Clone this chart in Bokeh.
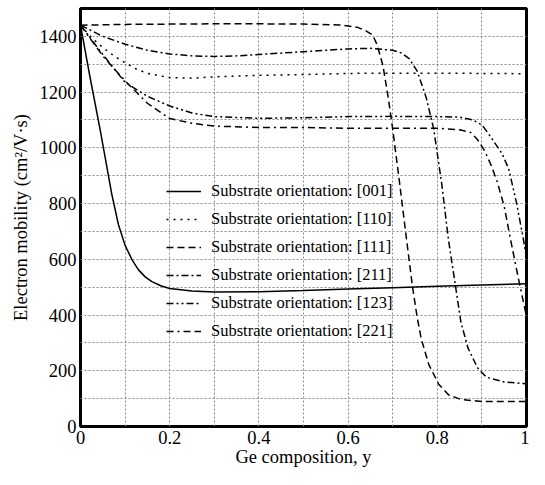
from bokeh.plotting import figure
from bokeh.models import Range1d, FixedTicker, CustomJSTickFormatter, Legend, LegendItem
from bokeh.embed import file_html
from bokeh.resources import INLINE

# ---- data ----
labels = ["Substrate orientation: [001]", "Substrate orientation: [110]",
          "Substrate orientation: [111]", "Substrate orientation: [211]",
          "Substrate orientation: [123]", "Substrate orientation: [221]"]

x001 = [0, 0.02, 0.044, 0.07, 0.085, 0.1, 0.115, 0.13, 0.145, 0.16, 0.18, 0.2, 0.25, 0.3, 0.4, 0.5, 0.6, 0.7, 0.8, 0.9, 1.0]
y001 = [1440, 1265, 1065, 835, 725, 650, 600, 562, 537, 520, 505, 495, 486, 483, 484, 488, 493, 498, 503, 508, 512]

x110 = [0, 0.025, 0.05, 0.075, 0.1, 0.125, 0.15, 0.2, 0.25, 0.3, 0.4, 0.5, 0.6, 0.7, 0.8, 0.9, 1.0]
y110 = [1440, 1395, 1360, 1330, 1305, 1283, 1267, 1252, 1250, 1255, 1260, 1263, 1267, 1268, 1268, 1267, 1266]

x111 = [0, 0.1, 0.2, 0.3, 0.4, 0.5, 0.58, 0.62, 0.64, 0.655, 0.665, 0.678, 0.69, 0.7, 0.715, 0.731, 0.744, 0.755, 0.764, 0.781, 0.803, 0.825, 0.853, 0.9, 1.0]
y111 = [1440, 1443, 1444, 1445, 1445, 1444, 1441, 1433, 1420, 1405, 1370, 1296, 1180, 1067, 880, 672, 506, 390, 315, 222, 152, 114, 97, 90, 90]

x211 = [0, 0.05, 0.1, 0.15, 0.2, 0.25, 0.3, 0.35, 0.4, 0.5, 0.6, 0.65, 0.7, 0.72, 0.737, 0.755, 0.775, 0.792, 0.81, 0.825, 0.84, 0.853, 0.869, 0.89, 0.91, 0.95, 1.0]
y211 = [1440, 1400, 1372, 1350, 1337, 1330, 1328, 1330, 1335, 1345, 1355, 1357, 1350, 1340, 1320, 1275, 1181, 1067, 870, 670, 512, 374, 281, 211, 177, 160, 153]

x123 = [0, 0.05, 0.1, 0.15, 0.2, 0.25, 0.3, 0.4, 0.5, 0.6, 0.7, 0.8, 0.85, 0.88, 0.9, 0.915, 0.93, 0.945, 0.96, 0.978, 0.993, 1.0]
y123 = [1440, 1335, 1235, 1185, 1150, 1125, 1112, 1106, 1108, 1112, 1113, 1112, 1110, 1100, 1082, 1050, 1015, 980, 925, 800, 672, 603]

x221 = [0, 0.05, 0.1, 0.15, 0.2, 0.25, 0.3, 0.4, 0.5, 0.6, 0.7, 0.8, 0.85, 0.875, 0.89, 0.906, 0.92, 0.934, 0.95, 0.965, 0.982, 1.0]
y221 = [1440, 1330, 1240, 1160, 1105, 1088, 1078, 1073, 1073, 1070, 1070, 1070, 1065, 1055, 1030, 990, 940, 880, 790, 665, 530, 395]

x_ticks = [0, 0.2, 0.4, 0.6, 0.8, 1]
y_ticks = [0, 200, 400, 600, 800, 1000, 1200, 1400]
x_grid = [0, 0.1, 0.2, 0.3, 0.4, 0.5, 0.6, 0.7, 0.8, 0.9, 1.0]
y_grid = [0, 100, 200, 300, 400, 500, 600, 700, 800, 900, 1000, 1100, 1200, 1300, 1400, 1500]

FONT = "Liberation Serif"

p = figure(width=529, height=469, output_backend="svg", toolbar_location=None, title=None,
           x_range=Range1d(0, 1), y_range=Range1d(0, 1500),
           min_border_left=80, min_border_right=3, min_border_top=8, min_border_bottom=0)
p.background_fill_color = "white"
p.border_fill_color = "white"
p.outline_line_color = "black"
p.outline_line_width = 3

p.xaxis.ticker = FixedTicker(ticks=x_ticks)
p.yaxis.ticker = FixedTicker(ticks=y_ticks)
p.xaxis.formatter = CustomJSTickFormatter(code="return String(tick)")
p.yaxis.formatter = CustomJSTickFormatter(code="return String(tick)")
p.xgrid.ticker = FixedTicker(ticks=x_grid)
p.ygrid.ticker = FixedTicker(ticks=y_grid)
for g in (p.xgrid, p.ygrid):
    g.grid_line_color = "#8a8a8a"
    g.grid_line_dash = "2 2"
    g.grid_line_width = 1

for ax in (p.xaxis, p.yaxis):
    ax.axis_line_color = None
    ax.major_tick_line_color = None
    ax.minor_tick_line_color = None
    ax.major_tick_out = 0
    ax.major_tick_in = 0
    ax.major_label_text_font = FONT
    ax.major_label_text_font_size = "18.5px"
    ax.major_label_text_color = "black"
    ax.axis_label_text_font = FONT
    ax.axis_label_text_font_size = "18.5px"
    ax.axis_label_text_font_style = "normal"
    ax.axis_label_text_color = "black"
p.xaxis.major_label_standoff = 4
p.yaxis.major_label_standoff = 4
p.xaxis.axis_label_standoff = 0
p.yaxis.axis_label_standoff = 6
p.xaxis.axis_label = "Ge composition, y"
p.yaxis.axis_label = "Electron mobility (cm\u00b2/V\u00b7s)"

series = [(x001, y001, "solid"), (x110, y110, "2 5"), (x111, y111, "7 4"),
          (x211, y211, "7 3 2 3"), (x123, y123, "7 3 2 3 2 3"),
          (x221, y221, "7 4 2 4 7 4")]
items = []
for (xs, ys, dash), lab in zip(series, labels):
    r = p.line(xs, ys, line_color="black", line_width=1.5, line_dash=dash)
    items.append(LegendItem(label=lab, renderers=[r]))

legend = Legend(items=items, location=(86, 85), orientation="vertical",
                background_fill_alpha=0, border_line_color=None,
                padding=0, margin=0, spacing=8,
                glyph_width=35, glyph_height=20, label_height=20, label_standoff=10,
                label_text_font=FONT, label_text_font_size="16.5px", label_text_color="black")
p.add_layout(legend)

open("out.html", "w").write(file_html(p, INLINE))
